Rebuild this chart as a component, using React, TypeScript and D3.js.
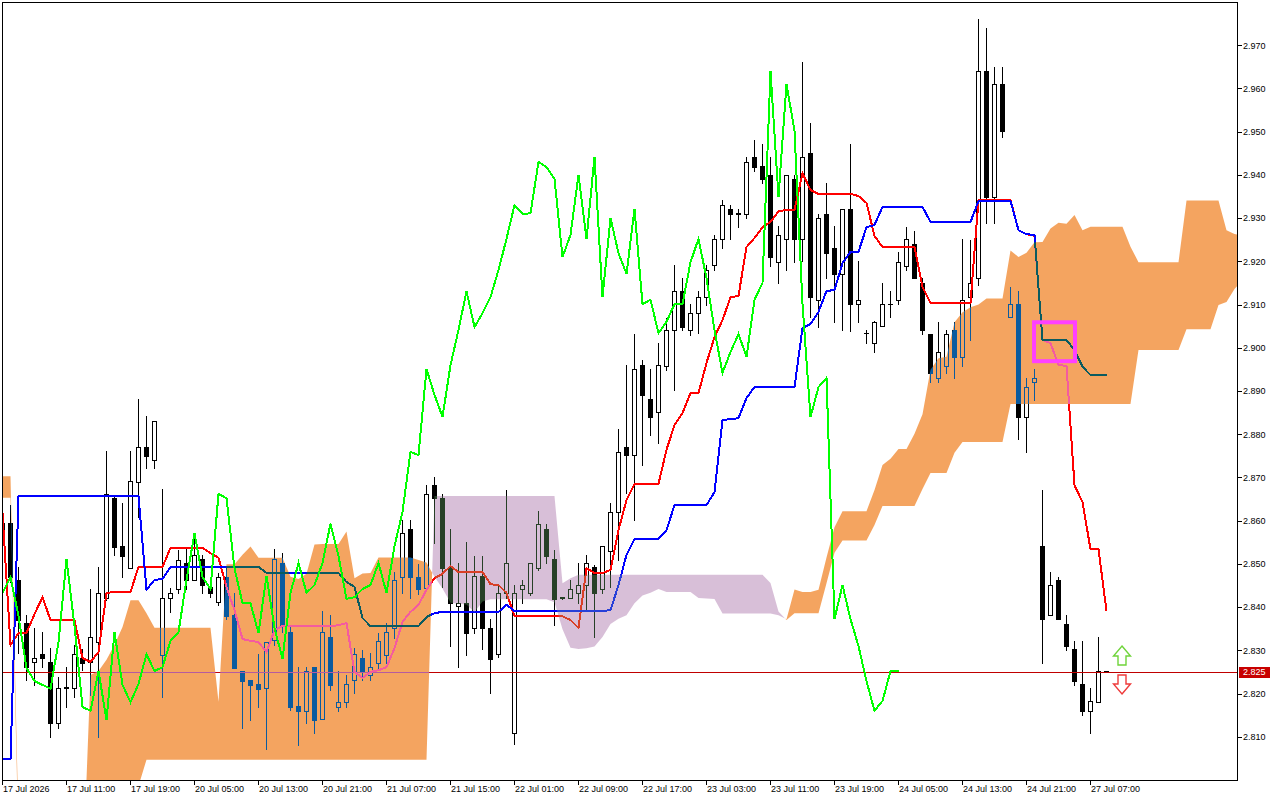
import React, { useEffect, useRef } from "react";
import * as d3 from "d3";

// ---- Candles (H1), bar 0 = 17 Jul 03:00 ----
const opens = [
  2.8560, 2.8595, 2.8463, 2.8363, 2.8273, 2.8291, 2.8273, 2.8132, 2.8213, 2.8213,
  2.8282, 2.8273, 2.8319, 2.8421, 2.8652, 2.8541, 2.8490, 2.8689, 2.8770, 2.8740,
  2.8289, 2.8421, 2.8442, 2.8502, 2.8463, 2.8511, 2.8447, 2.8412, 2.8470, 2.8382,
  2.8252, 2.8231, 2.8222, 2.8213, 2.8324, 2.8502, 2.8342, 2.8171, 2.8160, 2.8261,
  2.8141, 2.8331, 2.8169, 2.8180, 2.8231, 2.8282, 2.8243, 2.8271, 2.8289, 2.8352,
  2.8470, 2.8581, 2.8470, 2.8444, 2.8683, 2.8652, 2.8490, 2.8402, 2.8409, 2.8352,
  2.8472, 2.8352, 2.8291, 2.8433, 2.8109, 2.8442, 2.8433, 2.8490, 2.8581, 2.8511,
  2.8421, 2.8421, 2.8433, 2.8451, 2.8493, 2.8442, 2.8530, 2.8620, 2.8770, 2.8752,
  2.8960, 2.8882, 2.8851, 2.8958, 2.9041, 2.9131, 2.9041, 2.9080, 2.9117, 2.9192,
  2.9252, 2.9321, 2.9310, 2.9310, 2.9441, 2.9421, 2.9400, 2.9198, 2.9252, 2.9391,
  2.9252, 2.9451, 2.9111, 2.9310, 2.9231, 2.9171, 2.9321, 2.9101, 2.9034, 2.9011,
  2.9050, 2.9101, 2.9111, 2.9189, 2.9240, 2.9150, 2.9032, 2.8930, 2.8958, 2.9041,
  2.8979, 2.9117, 2.9161, 2.9640, 2.9349, 2.9610, 2.9071, 2.9101, 2.8840, 2.8921,
  2.8541, 2.8382, 2.8463, 2.8361, 2.8303, 2.8222, 2.8160, 2.8180, 2.8252,
];
const highs = [
  2.8630, 2.8636, 2.8493, 2.8382, 2.8352, 2.8342, 2.8305, 2.8238, 2.8261, 2.8312,
  2.8303, 2.8442, 2.8493, 2.8761, 2.8659, 2.8641, 2.8761, 2.8881, 2.8842, 2.8830,
  2.8673, 2.8444, 2.8532, 2.8539, 2.8571, 2.8521, 2.8470, 2.8479, 2.8490, 2.8433,
  2.8252, 2.8231, 2.8291, 2.8319, 2.8534, 2.8525, 2.8356, 2.8261, 2.8261, 2.8261,
  2.8391, 2.8382, 2.8252, 2.8243, 2.8305, 2.8300, 2.8294, 2.8340, 2.8363, 2.8481,
  2.8601, 2.8601, 2.8500, 2.8683, 2.8701, 2.8662, 2.8581, 2.8502, 2.8550, 2.8518,
  2.8518, 2.8372, 2.8449, 2.8671, 2.8452, 2.8463, 2.8503, 2.8623, 2.8593, 2.8532,
  2.8424, 2.8463, 2.8502, 2.8521, 2.8497, 2.8541, 2.8641, 2.8812, 2.8960, 2.9032,
  2.8972, 2.8951, 2.9011, 2.9069, 2.9192, 2.9161, 2.9101, 2.9131, 2.9192, 2.9261,
  2.9342, 2.9330, 2.9321, 2.9441, 2.9481, 2.9471, 2.9441, 2.9282, 2.9400, 2.9400,
  2.9661, 2.9520, 2.9310, 2.9381, 2.9282, 2.9321, 2.9471, 2.9201, 2.9041, 2.9062,
  2.9150, 2.9131, 2.9222, 2.9279, 2.9270, 2.9161, 2.9032, 2.9060, 2.9041, 2.9060,
  2.9252, 2.9250, 2.9761, 2.9740, 2.9650, 2.9650, 2.9140, 2.9131, 2.8930, 2.8951,
  2.8671, 2.8481, 2.8470, 2.8382, 2.8322, 2.8322, 2.8213, 2.8331, 2.8252,
];
const lows = [
  2.8540, 2.8458, 2.8294, 2.8231, 2.8220, 2.8261, 2.8099, 2.8120, 2.8169, 2.8192,
  2.8254, 2.8197, 2.8099, 2.8416, 2.8520, 2.8470, 2.8490, 2.8608, 2.8722, 2.8722,
  2.8192, 2.8389, 2.8433, 2.8442, 2.8463, 2.8433, 2.8424, 2.8405, 2.8372, 2.8259,
  2.8120, 2.8139, 2.8169, 2.8072, 2.8312, 2.8342, 2.8162, 2.8081, 2.8132, 2.8109,
  2.8141, 2.8208, 2.8160, 2.8169, 2.8201, 2.8231, 2.8231, 2.8254, 2.8270, 2.8329,
  2.8433, 2.8421, 2.8430, 2.8440, 2.8548, 2.8446, 2.8310, 2.8261, 2.8289, 2.8340,
  2.8303, 2.8201, 2.8285, 2.8421, 2.8083, 2.8409, 2.8428, 2.8486, 2.8503, 2.8359,
  2.8419, 2.8421, 2.8409, 2.8393, 2.8331, 2.8433, 2.8446, 2.8509, 2.8664, 2.8601,
  2.8729, 2.8798, 2.8780, 2.8948, 2.8902, 2.9041, 2.9029, 2.9034, 2.9099, 2.9180,
  2.9231, 2.9252, 2.9279, 2.9300, 2.9409, 2.9381, 2.9189, 2.9150, 2.9180, 2.9198,
  2.9201, 2.9071, 2.9048, 2.9161, 2.9060, 2.9041, 2.9039, 2.9060, 2.9011, 2.8990,
  2.9050, 2.9071, 2.9101, 2.9180, 2.9161, 2.9032, 2.8921, 2.8921, 2.8942, 2.8930,
  2.8958, 2.9018, 2.9145, 2.9289, 2.9289, 2.9488, 2.9071, 2.8789, 2.8759, 2.8879,
  2.8270, 2.8382, 2.8372, 2.8301, 2.8220, 2.8150, 2.8109, 2.8180, 2.8252,
];
const closes = [
  2.8595, 2.8470, 2.8370, 2.8261, 2.8282, 2.8282, 2.8132, 2.8213, 2.8215, 2.8291,
  2.8271, 2.8331, 2.8433, 2.8662, 2.8539, 2.8518, 2.8692, 2.8770, 2.8749, 2.8830,
  2.8421, 2.8433, 2.8509, 2.8463, 2.8521, 2.8451, 2.8433, 2.8470, 2.8379, 2.8259,
  2.8229, 2.8220, 2.8211, 2.8319, 2.8511, 2.8356, 2.8169, 2.8160, 2.8252, 2.8139,
  2.8342, 2.8220, 2.8180, 2.8222, 2.8291, 2.8252, 2.8261, 2.8322, 2.8342, 2.8463,
  2.8571, 2.8470, 2.8442, 2.8662, 2.8652, 2.8490, 2.8409, 2.8409, 2.8340, 2.8472,
  2.8352, 2.8280, 2.8433, 2.8502, 2.8433, 2.8451, 2.8502, 2.8593, 2.8518, 2.8419,
  2.8423, 2.8442, 2.8451, 2.8502, 2.8433, 2.8541, 2.8620, 2.8759, 2.8752, 2.8951,
  2.8891, 2.8840, 2.8960, 2.9041, 2.9131, 2.9048, 2.9080, 2.9117, 2.9180, 2.9252,
  2.9330, 2.9310, 2.9311, 2.9430, 2.9418, 2.9391, 2.9210, 2.9261, 2.9400, 2.9252,
  2.9441, 2.9117, 2.9300, 2.9219, 2.9171, 2.9321, 2.9101, 2.9111, 2.9034, 2.9060,
  2.9101, 2.9101, 2.9198, 2.9252, 2.9161, 2.9041, 2.8942, 2.8990, 2.9032, 2.8979,
  2.9111, 2.9150, 2.9640, 2.9349, 2.9610, 2.9502, 2.9101, 2.8840, 2.8909, 2.8930,
  2.8372, 2.8451, 2.8372, 2.8310, 2.8229, 2.8160, 2.8183, 2.8252, 2.8252,
];

// ---- Ichimoku lines ----
const tenkan = [
  2.8618, 2.8312, 2.8340, 2.8340, 2.8384, 2.8423, 2.8370, 2.8370, 2.8370, 2.8370,
  2.8282, 2.8273, 2.8296, 2.8433, 2.8435, 2.8435, 2.8435, 2.8493, 2.8493, 2.8493,
  2.8493, 2.8537, 2.8537, 2.8537, 2.8537, 2.8537, 2.8525, 2.8514, 2.8446, 2.8393,
  2.8326, 2.8322, 2.8319, 2.8296, 2.8347, 2.8356, 2.8356, 2.8356, 2.8356, 2.8356,
  2.8356, 2.8356, 2.8358, 2.8363, 2.8250, 2.8236, 2.8250, 2.8254, 2.8261, 2.8305,
  2.8366, 2.8389, 2.8405, 2.8440, 2.8467, 2.8477, 2.8495, 2.8481, 2.8481, 2.8481,
  2.8481, 2.8453, 2.8451, 2.8433, 2.8379, 2.8379, 2.8379, 2.8379, 2.8379, 2.8379,
  2.8379, 2.8370, 2.8352, 2.8490, 2.8479, 2.8479, 2.8486, 2.8578, 2.8648, 2.8685,
  2.8685, 2.8685, 2.8685, 2.8764, 2.8821, 2.8849, 2.8895, 2.8895, 2.8965, 2.9025,
  2.9064, 2.9117, 2.9120, 2.9233, 2.9254, 2.9279, 2.9291, 2.9316, 2.9319, 2.9319,
  2.9404, 2.9365, 2.9356, 2.9356, 2.9356, 2.9356, 2.9356, 2.9351, 2.9335, 2.9259,
  2.9233, 2.9233, 2.9233, 2.9233, 2.9233, 2.9141, 2.9104, 2.9104, 2.9104, 2.9104,
  2.9104, 2.9104, 2.9342, 2.9342, 2.9342, 2.9342, 2.9342, 2.9272, 2.9263, 2.9259,
  2.9018, 2.9011, 2.8960, 2.8958, 2.8682, 2.8643, 2.8534, 2.8534, 2.8391,
];
const kijun = [
  2.8049, 2.8049, 2.8657, 2.8657, 2.8657, 2.8657, 2.8657, 2.8657, 2.8657, 2.8657,
  2.8657, 2.8657, 2.8657, 2.8657, 2.8657, 2.8657, 2.8657, 2.8657, 2.8440, 2.8463,
  2.8465, 2.8493, 2.8493, 2.8493, 2.8493, 2.8493, 2.8493, 2.8493, 2.8493, 2.8493,
  2.8493, 2.8493, 2.8493, 2.8479, 2.8479, 2.8479, 2.8479, 2.8479, 2.8479, 2.8479,
  2.8479, 2.8479, 2.8479, 2.8458, 2.8447, 2.8375, 2.8356, 2.8356, 2.8356, 2.8356,
  2.8356, 2.8356, 2.8356, 2.8377, 2.8386, 2.8389, 2.8389, 2.8389, 2.8389, 2.8389,
  2.8389, 2.8389, 2.8389, 2.8405, 2.8391, 2.8391, 2.8391, 2.8391, 2.8391, 2.8391,
  2.8391, 2.8391, 2.8391, 2.8391, 2.8391, 2.8391, 2.8393, 2.8451, 2.8521, 2.8558,
  2.8558, 2.8558, 2.8558, 2.8578, 2.8636, 2.8636, 2.8636, 2.8636, 2.8636, 2.8666,
  2.8833, 2.8835, 2.8837, 2.8884, 2.8909, 2.8909, 2.8909, 2.8909, 2.8909, 2.8909,
  2.9046, 2.9055, 2.9083, 2.9131, 2.9134, 2.9196, 2.9222, 2.9222, 2.9279, 2.9284,
  2.9326, 2.9326, 2.9326, 2.9326, 2.9326, 2.9326, 2.9291, 2.9291, 2.9291, 2.9291,
  2.9291, 2.9291, 2.9340, 2.9340, 2.9340, 2.9340, 2.9340, 2.9272, 2.9263, 2.9261,
  2.9018, 2.9018, 2.9018, 2.9018, 2.8995, 2.8956, 2.8937, 2.8937, 2.8937,
];
// Senkou spans as drawn (already shifted 26 bars forward), positions 0..155
const spanA = [
  2.8703, 2.8703, 2.7900, 2.7900, 2.7900, 2.7900, 2.7900, 2.7900, 2.7900, 2.7900,
  2.7760, 2.8243, 2.8252, 2.8278, 2.8313, 2.8354, 2.8416, 2.8416, 2.8386, 2.8352,
  2.8352, 2.8352, 2.8352, 2.8352, 2.8352, 2.8352, 2.8352, 2.8181, 2.8499, 2.8499,
  2.8521, 2.8540, 2.8514, 2.8514, 2.8514, 2.8514, 2.8470, 2.8465, 2.8477, 2.8545,
  2.8546, 2.8546, 2.8546, 2.8575, 2.8467, 2.8478, 2.8479, 2.8515, 2.8515, 2.8515,
  2.8515, 2.8515, 2.8509, 2.8503, 2.8470, 2.8443, 2.8410, 2.8408, 2.8406, 2.8388,
  2.8413, 2.8418, 2.8418, 2.8418, 2.8418, 2.8418, 2.8418, 2.8418, 2.8418, 2.8411,
  2.8349, 2.8306, 2.8303, 2.8305, 2.8309, 2.8331, 2.8361, 2.8373, 2.8381, 2.8409,
  2.8427, 2.8433, 2.8442, 2.8435, 2.8435, 2.8435, 2.8435, 2.8421, 2.8420, 2.8419,
  2.8385, 2.8385, 2.8385, 2.8385, 2.8385, 2.8385, 2.8385, 2.8381, 2.8372, 2.8441,
  2.8435, 2.8435, 2.8440, 2.8515, 2.8585, 2.8622, 2.8622, 2.8622, 2.8622, 2.8671,
  2.8729, 2.8743, 2.8766, 2.8766, 2.8801, 2.8846, 2.8949, 2.8976, 2.8979, 2.9059,
  2.9082, 2.9094, 2.9100, 2.9114, 2.9114, 2.9114, 2.9225, 2.9210, 2.9220, 2.9244,
  2.9245, 2.9276, 2.9289, 2.9287, 2.9307, 2.9272, 2.9280, 2.9280, 2.9280, 2.9280,
  2.9280, 2.9234, 2.9198, 2.9198, 2.9198, 2.9198, 2.9198, 2.9198, 2.9341, 2.9341,
  2.9341, 2.9341, 2.9341, 2.9272, 2.9263, 2.9260,
];
const spanB = [
  2.8653, 2.8653, 2.7850, 2.7850, 2.7850, 2.7850, 2.7850, 2.7850, 2.7850, 2.7850,
  2.7700, 2.7950, 2.7950, 2.7950, 2.7950, 2.7950, 2.7950, 2.7986, 2.8047, 2.8047,
  2.8047, 2.8047, 2.8047, 2.8047, 2.8047, 2.8047, 2.8047, 2.8047, 2.8047, 2.8047,
  2.8047, 2.8047, 2.8047, 2.8047, 2.8047, 2.8047, 2.8047, 2.8047, 2.8047, 2.8047,
  2.8047, 2.8047, 2.8047, 2.8047, 2.8047, 2.8047, 2.8047, 2.8047, 2.8047, 2.8047,
  2.8047, 2.8047, 2.8047, 2.8047, 2.8657, 2.8657, 2.8657, 2.8657, 2.8657, 2.8657,
  2.8657, 2.8657, 2.8657, 2.8657, 2.8657, 2.8657, 2.8657, 2.8657, 2.8657, 2.8657,
  2.8455, 2.8467, 2.8475, 2.8475, 2.8475, 2.8475, 2.8475, 2.8475, 2.8475, 2.8475,
  2.8475, 2.8475, 2.8475, 2.8475, 2.8475, 2.8475, 2.8475, 2.8475, 2.8475, 2.8475,
  2.8475, 2.8475, 2.8475, 2.8475, 2.8475, 2.8475, 2.8456, 2.8390, 2.8370, 2.8386,
  2.8386, 2.8386, 2.8386, 2.8455, 2.8526, 2.8554, 2.8554, 2.8554, 2.8554, 2.8590,
  2.8634, 2.8634, 2.8634, 2.8634, 2.8634, 2.8673, 2.8710, 2.8710, 2.8710, 2.8757,
  2.8782, 2.8782, 2.8782, 2.8782, 2.8782, 2.8782, 2.8870, 2.8870, 2.8870, 2.8870,
  2.8870, 2.8870, 2.8870, 2.8870, 2.8870, 2.8870, 2.8870, 2.8870, 2.8870, 2.8870,
  2.8870, 2.8870, 2.8995, 2.8995, 2.8995, 2.8995, 2.8995, 2.8995, 2.9043, 2.9043,
  2.9043, 2.9043, 2.9099, 2.9106, 2.9136, 2.9157,
];
const CHIKOU_SHIFT = 26;

// ---- Axis labels ----
const timeLabels = [
  "17 Jul 2026", "17 Jul 11:00", "17 Jul 19:00", "20 Jul 05:00", "20 Jul 13:00",
  "20 Jul 21:00", "21 Jul 07:00", "21 Jul 15:00", "22 Jul 01:00", "22 Jul 09:00",
  "22 Jul 17:00", "23 Jul 03:00", "23 Jul 11:00", "23 Jul 19:00", "24 Jul 05:00",
  "24 Jul 13:00", "24 Jul 21:00", "27 Jul 07:00",
];
const timeLabelStep = 8;
const priceTicks = [
  2.81, 2.82, 2.83, 2.84, 2.85, 2.86, 2.87, 2.88, 2.89, 2.9, 2.91, 2.92, 2.93, 2.94, 2.95, 2.96, 2.97,
];
const lastPrice = 2.825;
// annotation box (bar range / price range) and signal arrows
const boxBars = [128.94, 134.06];
const boxPrices = [2.9059, 2.8969];
const arrowBar = 140;
const upArrow = [2.8310, 2.8266];
const downArrow = [2.8243, 2.8199];

const FONT = "'Liberation Sans', Arial, sans-serif";

export default function App() {
  const ref = useRef<SVGSVGElement | null>(null);

  useEffect(() => {
    const el = ref.current;
    if (!el) return;
    document.body.style.margin = "0";
    const svg = d3.select(el);
    svg.selectAll("*").remove();

    const x = d3.scaleLinear().domain([0, 155]).range([2.5, 2.5 + 8 * 155]);
    const y = d3.scaleLinear().domain([2.8, 2.98]).range([780, 2]);

    svg.append("rect").attr("width", 1280).attr("height", 800).attr("fill", "#ffffff");
    const defs = svg.append("defs");
    defs.append("clipPath").attr("id", "plotClip")
      .append("rect").attr("x", 3).attr("y", 3).attr("width", 1234).attr("height", 777);

    // Layer that the cloud is XOR-blended over
    const xor = svg.append("g").attr("clip-path", "url(#plotClip)").style("isolation", "isolate");
    xor.append("rect").attr("x", 0).attr("y", 0).attr("width", 1240).attr("height", 782).attr("fill", "#ffffff");

    const n = closes.length;
    const cg = xor.append("g").attr("shape-rendering", "crispEdges");
    for (let i = 0; i < n; i++) {
      const cx = x(i);
      const yh = Math.round(y(highs[i]));
      const yl = Math.round(y(lows[i]));
      cg.append("rect").attr("x", cx - 0.5).attr("y", yh).attr("width", 1)
        .attr("height", Math.max(1, yl - yh + 1)).attr("fill", "#000");
      const o = opens[i], c = closes[i];
      const top = Math.round(y(Math.max(o, c)));
      const bot = Math.round(y(Math.min(o, c)));
      if (c > o && bot - top >= 2) {
        cg.append("rect").attr("x", cx - 2).attr("y", top + 0.5).attr("width", 4)
          .attr("height", bot - top).attr("fill", "#fff").attr("stroke", "#000").attr("stroke-width", 1);
      } else {
        cg.append("rect").attr("x", cx - 2.5).attr("y", top).attr("width", 5)
          .attr("height", Math.max(1, bot - top + 1)).attr("fill", "#000");
      }
    }

    const py = Math.round(y(lastPrice)) + 0.5;
    xor.append("line").attr("x1", 0).attr("x2", 1240).attr("y1", py).attr("y2", py)
      .attr("stroke", "#c00000").attr("stroke-width", 1).attr("shape-rendering", "crispEdges");

    const line = d3.line<number>().x((_, i) => x(i)).y((d) => y(d));
    xor.append("path").attr("d", line(tenkan) || "").attr("fill", "none")
      .attr("stroke", "#ff0000").attr("stroke-width", 2).attr("shape-rendering", "crispEdges");
    xor.append("path").attr("d", line(kijun) || "").attr("fill", "none")
      .attr("stroke", "#0000ff").attr("stroke-width", 2).attr("shape-rendering", "crispEdges");

    // Kumo
    let sandy = "";
    let thistle = "";
    const poly = (pts: number[][]) => "M" + pts.map((p) => p[0].toFixed(2) + "," + p[1].toFixed(2)).join("L") + "Z";
    for (let k = 0; k < spanA.length - 1; k++) {
      const a0 = spanA[k], b0 = spanB[k], a1 = spanA[k + 1], b1 = spanB[k + 1];
      const d0 = a0 - b0, d1 = a1 - b1;
      const x0 = x(k), x1 = x(k + 1);
      if (d0 >= 0 && d1 >= 0) {
        sandy += poly([[x0, y(a0)], [x1, y(a1)], [x1, y(b1)], [x0, y(b0)]]);
      } else if (d0 <= 0 && d1 <= 0) {
        thistle += poly([[x0, y(b0)], [x1, y(b1)], [x1, y(a1)], [x0, y(a0)]]);
      } else {
        const t = d0 / (d0 - d1);
        const xc = x0 + t * (x1 - x0);
        const yc = y(a0 + t * (a1 - a0));
        const first = poly([[x0, y(a0)], [xc, yc], [x0, y(b0)]]);
        const second = poly([[xc, yc], [x1, y(a1)], [x1, y(b1)]]);
        if (d0 > 0) { sandy += first; thistle += second; } else { thistle += first; sandy += second; }
      }
    }
    // inverted kumo colours with difference blend = XOR drawing (SandyBrown / Thistle)
    xor.append("path").attr("d", sandy).attr("fill", "#0b5b9f").style("mix-blend-mode", "difference");
    xor.append("path").attr("d", thistle).attr("fill", "#274027").style("mix-blend-mode", "difference");

    // Chikou span
    const top = svg.append("g").attr("clip-path", "url(#plotClip)");
    const chikou = closes.slice(CHIKOU_SHIFT);
    top.append("path").attr("d", line(chikou) || "").attr("fill", "none")
      .attr("stroke", "#00ff00").attr("stroke-width", 2).attr("shape-rendering", "crispEdges");

    // Annotation box
    top.append("rect")
      .attr("x", x(boxBars[0])).attr("y", y(boxPrices[0]))
      .attr("width", x(boxBars[1]) - x(boxBars[0])).attr("height", y(boxPrices[1]) - y(boxPrices[0]))
      .attr("fill", "none").attr("stroke", "#ff40ff").attr("stroke-width", 4);

    // Arrows
    const ax = x(arrowBar) - 0.5;
    const uT = y(upArrow[0]), uB = y(upArrow[1]);
    const uH = uT + 10;
    top.append("path")
      .attr("d", `M${ax},${uT}L${ax + 8.5},${uH}L${ax + 4},${uH}L${ax + 4},${uB}L${ax - 4},${uB}L${ax - 4},${uH}L${ax - 8.5},${uH}Z`)
      .attr("fill", "#ffffff").attr("stroke", "#6fd43a").attr("stroke-width", 1.4);
    const dT = y(downArrow[0]), dB = y(downArrow[1]);
    const dH = dB - 10;
    top.append("path")
      .attr("d", `M${ax},${dB}L${ax + 8.5},${dH}L${ax + 4},${dH}L${ax + 4},${dT}L${ax - 4},${dT}L${ax - 4},${dH}L${ax - 8.5},${dH}Z`)
      .attr("fill", "#ffffff").attr("stroke", "#ee3a3a").attr("stroke-width", 1.4);

    // Frame
    svg.append("rect").attr("x", 2.5).attr("y", 2.5).attr("width", 1235).attr("height", 778)
      .attr("fill", "none").attr("stroke", "#000").attr("stroke-width", 1).attr("shape-rendering", "crispEdges");

    // Right price axis
    const ra = svg.append("g").attr("shape-rendering", "crispEdges");
    priceTicks.forEach((p) => {
      const ty = Math.round(y(p)) + 0.5;
      ra.append("line").attr("x1", 1238).attr("x2", 1242).attr("y1", ty).attr("y2", ty).attr("stroke", "#000");
      svg.append("text").attr("x", 1243).attr("y", y(p) + 3.3).attr("font-family", FONT)
        .attr("font-size", 9).attr("fill", "#000").text(p.toFixed(3));
    });
    const ly = Math.round(y(lastPrice));
    svg.append("rect").attr("x", 1239).attr("y", ly - 5).attr("width", 31).attr("height", 11)
      .attr("fill", "#c80000").attr("shape-rendering", "crispEdges");
    svg.append("text").attr("x", 1243).attr("y", y(lastPrice) + 3.3).attr("font-family", FONT)
      .attr("font-size", 9).attr("fill", "#ffffff").text(lastPrice.toFixed(3));

    // Bottom time axis
    timeLabels.forEach((lab, j) => {
      const tx = x(j * timeLabelStep);
      ra.append("line").attr("x1", tx).attr("x2", tx).attr("y1", 781).attr("y2", 785).attr("stroke", "#000");
      svg.append("text").attr("x", tx + 0.5).attr("y", 792).attr("font-family", FONT)
        .attr("font-size", 9).attr("fill", "#000").text(lab);
    });
  }, []);

  return (
    <svg
      ref={ref}
      width={1280}
      height={800}
      style={{ position: "absolute", left: 0, top: 0, display: "block" }}
    />
  );
}
